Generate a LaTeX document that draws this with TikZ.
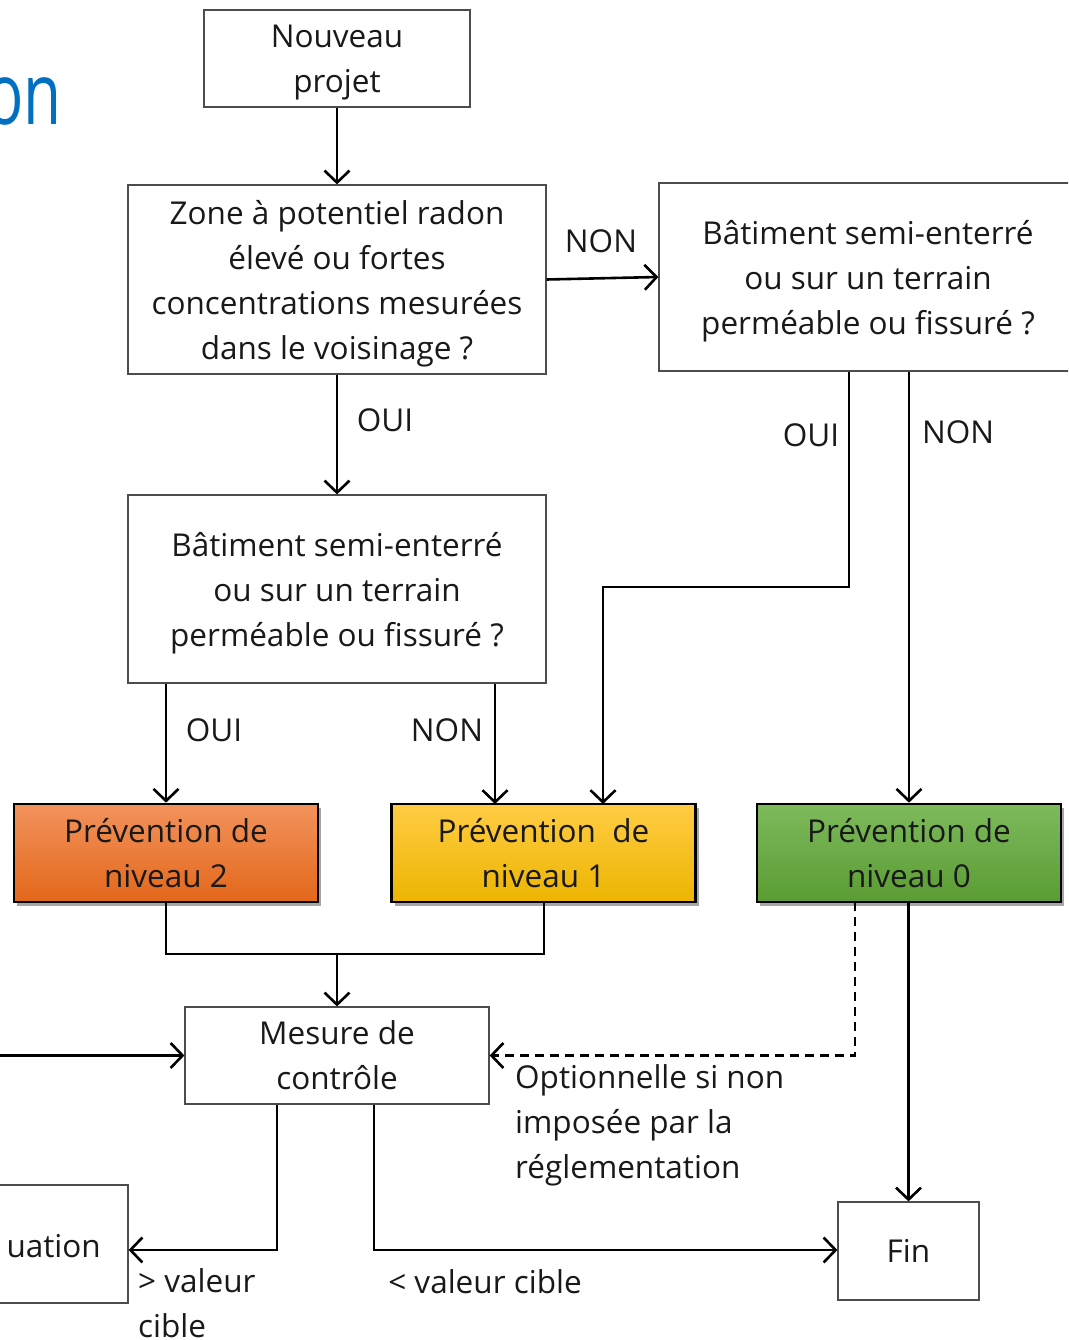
\documentclass[tikz,border=0pt]{standalone}
\usepackage{fontspec}
\setmainfont{Open Sans}
\usetikzlibrary{arrows.meta,shadows,calc}
\definecolor{titleblue}{HTML}{0070C0}
\definecolor{orT}{HTML}{F2935C}
\definecolor{orB}{HTML}{E3671A}
\definecolor{yeT}{HTML}{FFCC44}
\definecolor{yeB}{HTML}{ECB500}
\definecolor{grT}{HTML}{7DBA5C}
\definecolor{grB}{HTML}{5A9C33}
\newcommand{\txtfont}{\fontsize{31.5}{45}\selectfont}
\begin{document}
\begin{tikzpicture}[x=1pt,y=-1pt,
  box/.style={draw=black!70, line width=1.2pt, fill=white, align=center, inner sep=0pt, text=black!90, font=\txtfont},
  cbox/.style={draw=black, line width=2.6pt, align=center, inner sep=0pt, text=black!90, font=\txtfont,
    minimum width=304pt, minimum height=98pt,
    drop shadow={shadow xshift=3pt, shadow yshift=-4pt, opacity=0.35, fill=black}},
  conn/.style={line width=2.6pt, -{Straight Barb[length=12pt,width=25pt,line width=2.6pt]}},
  plain/.style={line width=2.6pt},
  lbl/.style={inner sep=0pt, text=black!90, font=\txtfont}
]
\useasboundingbox (0,0) rectangle (1068,1340);
\clip (0,0) rectangle (1068,1340);
\fill[white] (0,0) rectangle (1068,1340);

\node[anchor=base east, inner sep=0pt, text=titleblue, font=\fontsize{86}{100}\selectfont, xscale=0.72, transform shape] (title) at (62,125) {on};

\node[box, text depth=-8pt, minimum width=266pt, minimum height=97pt] (nouv) at (337,58.5) {Nouveau\\projet};
\node[box, text depth=0pt, minimum width=418pt, minimum height=189pt] (zone) at (337,279.5) {Zone à potentiel radon\\élevé ou fortes\\concentrations mesurées\\dans le voisinage ?};
\node[box, text depth=0pt, minimum width=418pt, minimum height=188pt] (batr) at (868,277) {Bâtiment semi-enterré\\ou sur un terrain\\perméable ou fissuré ?};
\node[box, text depth=0pt, minimum width=418pt, minimum height=188pt] (batm) at (337,589) {Bâtiment semi-enterré\\ou sur un terrain\\perméable ou fissuré ?};

\node[cbox, top color=orT, bottom color=orB] (p2) at (166,853) {Prévention de\\niveau 2};
\node[cbox, top color=yeT, bottom color=yeB] (p1) at (543.5,853) {Prévention~ de\\niveau 1};
\node[cbox, top color=grT, bottom color=grB] (p0) at (909,853) {Prévention de\\niveau 0};

\node[box, text depth=-4pt, minimum width=304pt, minimum height=97pt] (mes) at (337,1055.5) {Mesure de\\contrôle};
\node[box, minimum width=141pt, minimum height=98pt] (fin) at (908.5,1251) {Fin};
\node[box, minimum width=330pt, minimum height=118pt] (eval) at (-37,1244) {};
\node[lbl, anchor=east] (evaltxt) at (101,1246) {uation};

% connectors
\draw[conn] (nouv) -- (zone);
\draw[conn] (zone.east) -- (batr.west);
\node[lbl] (l1) at (601,241) {NON};
\draw[conn] (zone) -- (batm);
\node[lbl] (l2) at (385,420) {OUI};

\coordinate (ro) at (849,371);
\coordinate (p1r) at (603,804);
\draw[conn] (ro |- batr.south) -- (849,587) -- (603,587) -- (p1r);
\node[lbl] (l3) at (811,435) {OUI};
\draw[conn] (p0.north |- batr.south) -- (p0.north);
\node[lbl] (l4) at (958,432) {NON};

\draw[conn] (p2.north |- batm.south) -- (p2.north);
\node[lbl] (l5) at (214,730) {OUI};
\coordinate (p1l) at (495,804);
\draw[conn] (p1l |- batm.south) -- (p1l);
\node[lbl] (l6) at (447,730) {NON};

\coordinate (p1b) at (544,902);
\coordinate (join) at (337,954);
\draw[plain] (p2.south) -- (p2.south |- join) -- (p1b |- join) -- (p1b);
\draw[conn] (join) -- (mes.north);

\coordinate (p0d) at (855,902);
\draw[conn, dashed, dash pattern=on 9pt off 6pt] (p0d) -- (p0d |- mes.east) -- (mes.east);
\node[lbl, anchor=west, align=left] (opt) at (515,1125) {Optionnelle si non\\imposée par la\\réglementation};
\draw[conn] (fin.north |- p0.south) -- (fin.north);

\coordinate (leftin) at (0,1055.5);
\draw[conn] (leftin) -- (mes.west);

\coordinate (m1) at (277,1104);
\coordinate (m2) at (374,1104);
\draw[conn] (m1 |- mes.south) -- (277,1250) -- (eval.east |- 0,1250);
\node[lbl, anchor=west, align=left] (l7) at (138,1303) {> valeur\\cible};
\draw[conn] (m2 |- mes.south) -- (374,1250) -- (fin.west |- 0,1250);
\node[lbl] (l8) at (485,1282) {< valeur cible};
\end{tikzpicture}
\end{document}
